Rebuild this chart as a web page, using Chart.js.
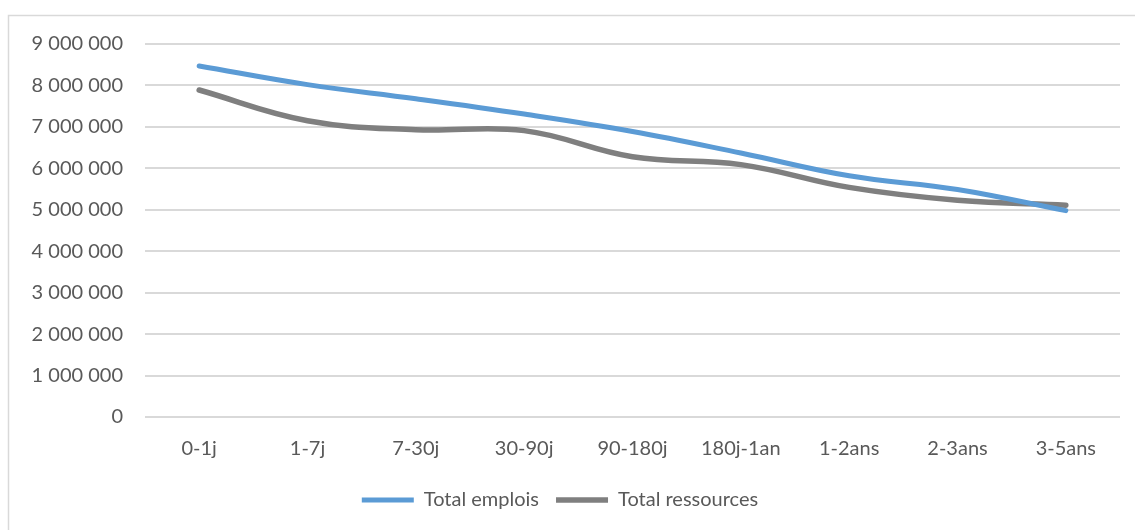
<!DOCTYPE html>
<html>
<head>
<meta charset="utf-8">
<script src="https://cdn.jsdelivr.net/npm/chart.js@4.4.1/dist/chart.umd.min.js"></script>
<style>
  html, body { margin: 0; padding: 0; background: #fff; }
  #wrap { position: relative; width: 1135px; height: 530px; }
</style>
</head>
<body>
<div id="wrap"><canvas id="chart" width="1135" height="530"></canvas></div>
<script>
const categories = ['0-1j', '1-7j', '7-30j', '30-90j', '90-180j', '180j-1an', '1-2ans', '2-3ans', '3-5ans']
const totalEmplois = [8470000, 8020000, 7680000, 7310000, 6890000, 6370000, 5820000, 5490000, 4980000]
const totalRessources = [7890000, 7150000, 6930000, 6910000, 6280000, 6090000, 5540000, 5230000, 5110000]

const textColor = '#595959'
const gridColor = '#d9d9d9'
const fontFamily = 'Lato, "Open Sans", sans-serif'

// 9 000 000 style labels
const spaced = v => String(v).replace(/\B(?=(\d{3})+(?!\d))/g, ' ')

// light frame around the whole chart
const frame = {
  id: 'frame',
  beforeDraw(chart) {
    const ctx = chart.ctx
    ctx.save()
    ctx.strokeStyle = gridColor
    ctx.lineWidth = 1.5
    ctx.strokeRect(8.5, 15.5, 1140, 540)
    ctx.restore()
  }
}

const ctx = document.getElementById('chart')

new Chart(ctx, {
  type: 'line',
  data: {
    labels: categories,
    datasets: [{
      label: 'Total emplois',
      data: totalEmplois,
      borderColor: '#5b9bd5',
      backgroundColor: '#5b9bd5',
      borderWidth: 5,
      borderCapStyle: 'round',
      pointRadius: 0,
      tension: 0.4
    }, {
      label: 'Total ressources',
      data: totalRessources,
      borderColor: '#7f7f7f',
      backgroundColor: '#7f7f7f',
      borderWidth: 5.5,
      borderCapStyle: 'round',
      pointRadius: 0,
      tension: 0.4
    }]
  },
  options: {
    responsive: false,
    animation: false,
    layout: {
      padding: { left: 0, right: 15, top: 44, bottom: 10 }
    },
    scales: {
      x: {
        offset: true,
        grid: { display: false },
        border: { display: false },
        ticks: {
          color: textColor,
          font: { family: fontFamily, size: 20 },
          padding: 12,
          maxRotation: 0
        }
      },
      y: {
        min: 0,
        max: 9000000,
        afterFit(scale) { scale.width = 145 },
        grid: {
          color: gridColor,
          lineWidth: 2,
          drawTicks: false
        },
        border: { display: false },
        ticks: {
          stepSize: 1000000,
          color: textColor,
          font: { family: fontFamily, size: 20 },
          padding: 22,
          callback: v => spaced(v)
        }
      }
    },
    plugins: {
      tooltip: { enabled: false },
      legend: {
        position: 'bottom',
        labels: {
          color: textColor,
          font: { family: fontFamily, size: 20 },
          usePointStyle: true,
          pointStyle: 'line',
          pointStyleWidth: 52,
          padding: 17
        }
      }
    }
  },
  plugins: [frame]
})
</script>
</body>
</html>
